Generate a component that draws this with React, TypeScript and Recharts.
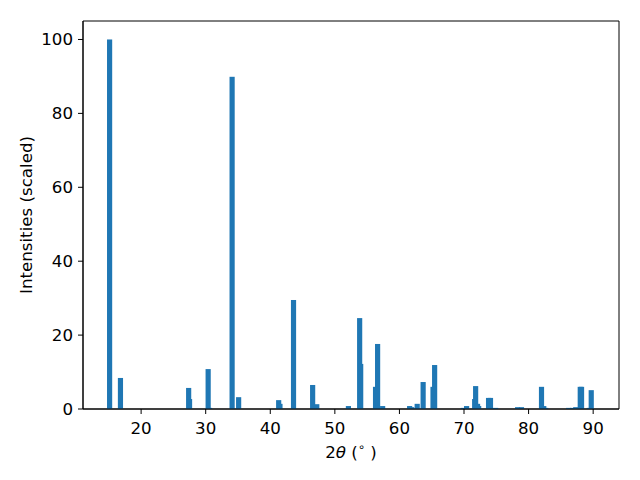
import React from 'react';
import { BarChart, Bar, XAxis, YAxis, ReferenceArea } from 'recharts';

// Peak positions (2θ, degrees) and scaled intensities
const twoTheta = [
  15.12, 16.8, 27.36, 27.5, 30.38, 30.6, 34.09, 35.1, 41.3, 41.5,
  43.6, 46.56, 47.2, 52.1, 53.84, 54.0, 56.3, 56.62, 57.4, 61.58,
  61.9, 62.75, 63.67, 65.2, 65.45, 69.9, 70.4, 71.65, 71.8, 72.1,
  72.27, 73.8, 74.1, 74.9, 78.3, 78.9, 82.0, 82.35, 82.65, 86.2,
  86.8, 87.3, 88.0, 88.2, 89.4, 89.7,
];
const intensities = [
  100, 8.4, 5.7, 2.7, 10.8, 0.3, 89.9, 3.2, 2.4, 1.4,
  29.5, 6.5, 1.3, 0.8, 24.6, 12.2, 6.0, 17.6, 0.8, 0.8,
  0.5, 1.4, 7.3, 6.0, 11.9, 0.3, 0.8, 2.7, 6.2, 1.4,
  0.8, 3.0, 3.0, 0.3, 0.5, 0.5, 6.0, 0.8, 0.3, 0.3,
  0.3, 0.5, 6.0, 6.0, 0.3, 5.1,
];
const xTicks = [20, 30, 40, 50, 60, 70, 80, 90];
const yTicks = [0, 20, 40, 60, 80, 100];
const xDomain: [number, number] = [11.0, 94.0];
const yDomain: [number, number] = [0, 105];

const data = twoTheta.map((t, i) => ({ t, v: intensities[i] }));

const FONT = '"DejaVu Sans", sans-serif';
const FONT_SIZE = 16.67;
const BAR_COLOR = '#1f77b4';
const BAR_WIDTH_PX = 5.17; // 0.8 degree at this plot width

const PeakBar = (props: any) => {
  const { x, y, width, height } = props;
  if (height == null || isNaN(height)) return null;
  const cx = x + width / 2;
  return <rect x={cx - BAR_WIDTH_PX / 2} y={y} width={BAR_WIDTH_PX} height={height} fill={BAR_COLOR} />;
};

const tickStyle = { fill: '#000', fontSize: FONT_SIZE, fontFamily: FONT };

export default function App() {
  return (
    <div style={{ position: 'absolute', left: 0, top: 0, width: 640, height: 480, background: '#fff' }}>
      <BarChart
        width={640}
        height={480}
        data={data}
        margin={{ top: 21, right: 21, bottom: 0, left: 0 }}
      >
        <XAxis
          dataKey="t"
          type="number"
          domain={xDomain}
          ticks={xTicks}
          allowDataOverflow
          height={71}
          tickSize={5}
          tickMargin={8}
          tick={tickStyle}
          axisLine={{ stroke: '#000', strokeWidth: 1 }}
          tickLine={{ stroke: '#000', strokeWidth: 1 }}
          label={({ viewBox }: any) => (
            <text
              x={viewBox.x + viewBox.width / 2}
              y={viewBox.y + 49}
              textAnchor="middle"
              fontFamily={FONT}
              fontSize={FONT_SIZE}
              fill="#000"
            >
              2<tspan fontStyle="italic">θ</tspan> (<tspan fontSize={11.5} dy={-7}>∘</tspan><tspan dy={7}> )</tspan>
            </text>
          )}
        />
        <YAxis
          type="number"
          domain={yDomain}
          ticks={yTicks}
          allowDataOverflow
          width={83}
          tickSize={5}
          tickMargin={5}
          tick={tickStyle}
          axisLine={{ stroke: '#000', strokeWidth: 1 }}
          tickLine={{ stroke: '#000', strokeWidth: 1 }}
          label={({ viewBox }: any) => {
            const cx = 26;
            const cy = viewBox.y + viewBox.height / 2;
            return (
              <text
                x={cx}
                y={cy}
                transform={`rotate(-90 ${cx} ${cy})`}
                textAnchor="middle"
                dominantBaseline="central"
                fontFamily={FONT}
                fontSize={FONT_SIZE}
                fill="#000"
              >
                Intensities (scaled)
              </text>
            );
          }}
        />
        <Bar dataKey="v" fill={BAR_COLOR} shape={PeakBar} isAnimationActive={false} />
        <ReferenceArea
          x1={xDomain[0]}
          x2={xDomain[1]}
          y1={yDomain[0]}
          y2={yDomain[1]}
          fill="none"
          fillOpacity={0}
          stroke="#000"
          strokeWidth={1}
          ifOverflow="visible"
        />
      </BarChart>
    </div>
  );
}
